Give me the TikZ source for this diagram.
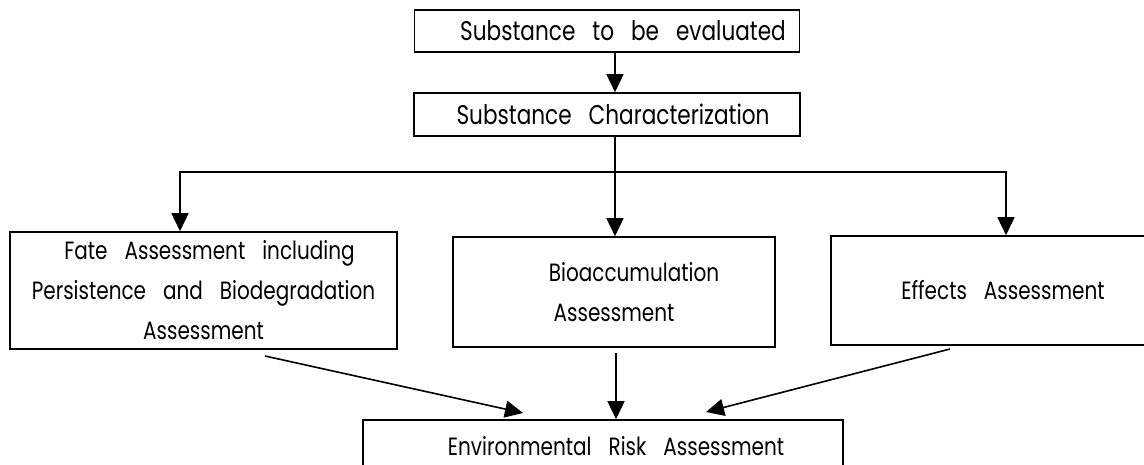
\documentclass[tikz,border=0pt]{standalone}
\usepackage{fontspec}
\setmainfont{Poppins}[FakeStretch=0.8]
\usetikzlibrary{arrows.meta}

% wide word gap used in every label
\newcommand\wgap{\hspace{8.5pt}}

\tikzset{
  box/.style={draw, line width=0.8pt, inner sep=0pt, align=center,
    font=\fontsize{12.5}{20}\selectfont},
  headbox/.style={box, font=\fontsize{13.5}{20}\selectfont},
  arr/.style={line width=0.8pt, -{Triangle[length=9pt,width=8.5pt]}},
  link/.style={line width=0.8pt}
}

\begin{document}
\begin{tikzpicture}[x=0.5pt,y=-0.5pt]
  \useasboundingbox (0,0) rectangle (1144,465);
  \clip (0,0) rectangle (1144,465);

  % top chain
  \node[headbox, minimum width=192.5pt, minimum height=21pt] (subst) at (607,31)
    {\hspace*{16pt}Substance\wgap to\wgap be\wgap evaluated};
  \node[headbox, minimum width=193pt, minimum height=21.5pt] (charac) at (607,114.5)
    {\hspace*{6pt}Substance\wgap Characterization};

  % three assessments
  \node[box, minimum width=193.5pt, minimum height=58.5pt] (fate) at (203.5,290.5)
    {\hspace*{6pt}Fate\wgap Assessment\wgap including\\Persistence\wgap and\wgap Biodegradation\\Assessment};
  \node[box, minimum width=161pt, minimum height=55pt] (bio) at (614,292)
    {\hspace*{20pt}Bioaccumulation\\Assessment};
  \node[box, minimum width=172pt, minimum height=54.5pt] (eff) at (1003,290.5)
    {Effects\wgap Assessment};

  % final box, running past the lower edge
  \node[box, minimum width=240pt, minimum height=26pt] (env) at (603,446)
    {\hspace*{13pt}Environmental\wgap Risk\wgap Assessment};

  % branching bus
  \coordinate (bus) at (615,172);
  \coordinate (lx) at (180,0);
  \coordinate (rx) at (1006,0);
  \draw[arr] (subst.south -| bus) -- (charac.north -| bus);
  \draw[link] (charac.south -| bus) -- (bus);
  \draw[arr] (bus) -| (fate.north -| lx);
  \draw[arr] (bus) -| (eff.north -| rx);
  \draw[arr] (bus) -- (bio.north -| bus);

  % converging arrows
  \coordinate (fs) at (265,356);
  \coordinate (ft) at (523,413);
  \coordinate (ms) at (616,353);
  \coordinate (es) at (950,349);
  \coordinate (et) at (706,412);
  \draw[arr] (fs) -- (ft);
  \draw[arr] (ms) -- (env.north -| ms);
  \draw[arr] (es) -- (et);
\end{tikzpicture}
\end{document}
